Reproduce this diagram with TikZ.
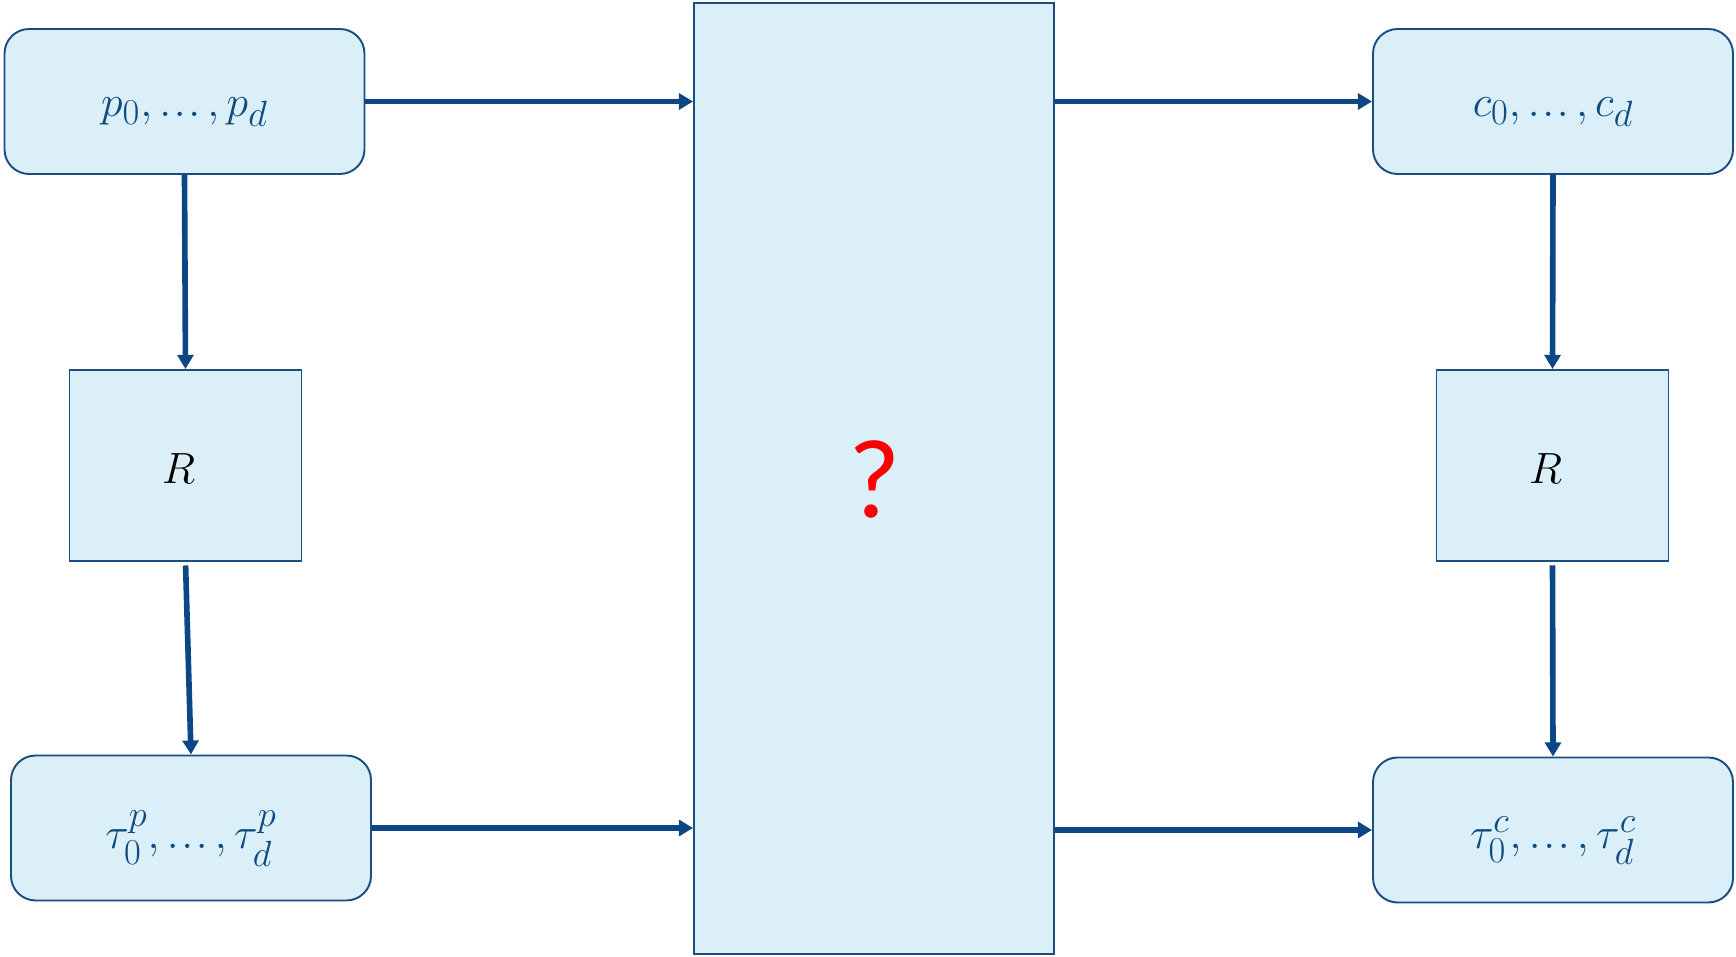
\documentclass[tikz,border=0pt]{standalone}
\usepackage{fontspec}
\usepackage{amsmath}
\usepackage{tikz}
\usetikzlibrary{positioning,arrows.meta}
\newfontfamily\qfont{Carlito}
\definecolor{BoxFill}{HTML}{DAEFF8}
\definecolor{BoxLine}{HTML}{1A4E82}
\definecolor{ArrowBlue}{HTML}{0B4784}
\definecolor{LabelBlue}{HTML}{0E4A80}
\newcommand{\tdots}{\mathinner{.\kern1.5pt.\kern1.5pt.}}
\newcommand{\seqlabel}[1]{\raisebox{-6pt}[\height][\depth]{#1}}

\begin{document}
\begin{tikzpicture}[x=1cm,y=1cm,>={Triangle[length=8pt,width=9pt]}]
  \tikzstyle{seq}=[draw=BoxLine,fill=BoxFill,line width=1.1pt,
    rounded corners=14pt,minimum width=7.2cm,minimum height=2.9cm,
    text=LabelBlue,font=\fontsize{28}{32}\selectfont]
  \tikzstyle{rmap}=[draw=BoxLine,fill=BoxFill,line width=1.1pt,
    minimum width=4.64cm,minimum height=3.82cm,
    font=\fontsize{25}{30}\selectfont]
  \tikzstyle{flow}=[->,line width=3.2pt,color=ArrowBlue]
  \useasboundingbox (0,0) rectangle (34.72,19.14);
  \node[seq] (p) at (3.69,17.11) {\seqlabel{$p_0,\tdots,p_d$}};
  \node[rmap] (rp) at (3.71,9.83) {\raisebox{-2pt}[\height][\depth]{$R$}\kern8pt};
  \node[seq] (taup) at (3.82,2.58) {\seqlabel{$\tau^p_0,\tdots,\tau^p_d$}};
  \node[draw=BoxLine,fill=BoxFill,line width=1.1pt,minimum width=7.2cm,
    minimum height=19.02cm] (mid) at (17.48,9.57) {};
  \node[text=red,font=\qfont\fontsize{64}{70}\selectfont] (q) at (17.5,9.55) {?};
  \node[seq] (c) at (31.06,17.11) {\seqlabel{$c_0,\tdots,c_d$}};
  \node[rmap] (rc) at (31.05,9.83) {\raisebox{-2pt}[\height][\depth]{$R$}\kern8pt};
  \node[seq] (tauc) at (31.06,2.54) {\seqlabel{$\tau^c_0,\tdots,\tau^c_d$}};
  \draw[flow] (p.east)--(p.east -| mid.west);
  \draw[flow] (taup.east)--(taup.east -| mid.west);
  \draw[flow] (mid.east |- c.west)--(c.west);
  \draw[flow] (mid.east |- tauc.west)--(tauc.west);
  \draw[flow] (p.south)--(rp.north);
  \draw[flow,shorten <=2pt] (rp.south)--(taup.north);
  \draw[flow] (c.south)--(rc.north);
  \draw[flow,shorten <=2pt] (rc.south)--(tauc.north);
\end{tikzpicture}
\end{document}
